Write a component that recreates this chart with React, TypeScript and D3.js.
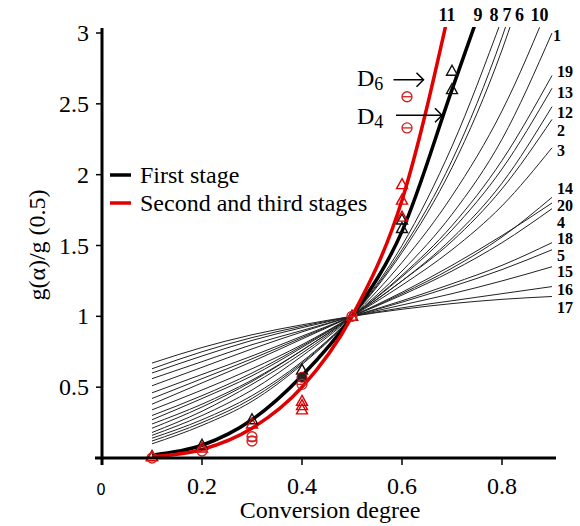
import React from "react";
import * as d3 from "d3";

// ---------- data ----------
const alphas = [0.1, 0.2, 0.3, 0.4, 0.5, 0.6, 0.7, 0.8, 0.9];

// model curves g(a)/g(0.5), values at alphas
const modelIds = ["17", "16", "15", "5", "18", "4", "14", "20", "3", "12", "2", "19", "13", "1", "10", "6", "7", "8"];
const modelValues: number[][] = [
  [0.67, 0.78, 0.87, 0.94, 1, 1.05, 1.09, 1.12, 1.14],
  [0.63, 0.75, 0.85, 0.93, 1, 1.06, 1.11, 1.16, 1.21],
  [0.6, 0.72, 0.83, 0.92, 1, 1.08, 1.16, 1.25, 1.35],
  [0.56, 0.68, 0.8, 0.9, 1, 1.1, 1.21, 1.33, 1.47],
  [0.51, 0.64, 0.77, 0.89, 1, 1.11, 1.23, 1.36, 1.52],
  [0.46, 0.59, 0.72, 0.86, 1, 1.15, 1.32, 1.52, 1.76],
  [0.42, 0.56, 0.7, 0.85, 1, 1.16, 1.34, 1.56, 1.84],
  [0.38, 0.53, 0.68, 0.84, 1, 1.17, 1.36, 1.57, 1.8],
  [0.34, 0.48, 0.63, 0.8, 1, 1.22, 1.47, 1.78, 2.19],
  [0.3, 0.44, 0.6, 0.79, 1, 1.25, 1.55, 1.94, 2.48],
  [0.27, 0.42, 0.58, 0.78, 1, 1.25, 1.53, 1.9, 2.39],
  [0.24, 0.38, 0.55, 0.76, 1, 1.29, 1.64, 2.1, 2.7],
  [0.21, 0.36, 0.54, 0.76, 1, 1.28, 1.61, 2.04, 2.61],
  [0.18, 0.33, 0.52, 0.74, 1, 1.32, 1.72, 2.25, 3.0],
  [0.16, 0.3, 0.48, 0.72, 1, 1.38, 1.85, 2.45, 3.25],
  [0.14, 0.27, 0.44, 0.68, 1, 1.45, 2.05, 2.88, 4.0],
  [0.12, 0.25, 0.42, 0.67, 1, 1.47, 2.1, 2.97, 4.1],
  [0.1, 0.23, 0.4, 0.66, 1, 1.5, 2.2, 3.1],
];

// experimental stage curves
const firstStage = [0.02, 0.09, 0.27, 0.58, 1, 1.6, 2.6, 3.6];
const secondThird = [0.01, 0.06, 0.21, 0.5, 1, 1.82, 3.25];

// markers
const blackTriA = [0.1, 0.2, 0.3, 0.4, 0.5, 0.6, 0.6, 0.7, 0.7];
const blackTriV = [0.01, 0.09, 0.27, 0.62, 1.0, 1.62, 1.68, 2.6, 2.73];
const blackDotA = [0.4];
const blackDotV = [0.57];
const redTriA = [0.1, 0.2, 0.3, 0.4, 0.4, 0.4, 0.5, 0.6, 0.6, 0.6];
const redTriV = [0.01, 0.07, 0.24, 0.4, 0.37, 0.34, 1.0, 1.93, 1.82, 1.7];
const redCircA = [0.1, 0.2, 0.3, 0.3, 0.4, 0.5, 0.61, 0.61];
const redCircV = [0.0, 0.05, 0.15, 0.12, 0.52, 1.0, 2.55, 2.33];

// labels
const topLabels = ["11", "9", "8", "7", "6", "10"];
const topLabelA = [0.69, 0.752, 0.784, 0.81, 0.835, 0.875];
const rightLabels = ["1", "19", "13", "12", "2", "3", "14", "20", "4", "18", "5", "15", "16", "17"];
const rightLabelV = [2.98, 2.73, 2.58, 2.44, 2.31, 2.17, 1.9, 1.78, 1.66, 1.55, 1.43, 1.32, 1.19, 1.06];

const yTicks = [0.5, 1, 1.5, 2, 2.5, 3];
const xTicks = [0.2, 0.4, 0.6, 0.8];

const SERIF = "Liberation Serif, Times New Roman, DejaVu Serif, serif";

export default function App() {
  const W = 580, H = 526;
  const x = d3.scaleLinear().domain([0, 0.9]).range([102, 552]);
  const y = d3.scaleLinear().domain([0, 3]).range([458, 33]);
  const line = d3
    .line<[number, number]>()
    .x((d) => x(d[0]))
    .y((d) => y(d[1]))
    .curve(d3.curveMonotoneX);
  const pts = (vals: number[]) => vals.map((v, i) => [alphas[i], v] as [number, number]);
  const serif = { fontFamily: SERIF };

  const tri = (cx: number, cy: number, color: string, key: string) => (
    <path
      key={key}
      d={`M${cx},${cy - 6} L${cx + 5.5},${cy + 4} L${cx - 5.5},${cy + 4} Z`}
      fill="none"
      stroke={color}
      strokeWidth={1.4}
    />
  );
  const circ = (cx: number, cy: number, color: string, key: string) => (
    <g key={key} stroke={color} strokeWidth={1.3} fill="none">
      <circle cx={cx} cy={cy} r={5} />
      <line x1={cx - 5} x2={cx + 5} y1={cy} y2={cy} />
    </g>
  );

  return (
    <svg width={W} height={H} style={{ display: "block", position: "absolute", left: 0, top: 0 }}>
      <rect width={W} height={H} fill="#fff" />
      <defs>
        <clipPath id="plot">
          <rect x={102} y={27} width={460} height={432} />
        </clipPath>
      </defs>

      <g clipPath="url(#plot)">
        {modelValues.map((vals, i) => (
          <path key={modelIds[i]} d={line(pts(vals)) || ""} fill="none" stroke="#222" strokeWidth={1} />
        ))}
        <path d={line(pts(firstStage)) || ""} fill="none" stroke="#000" strokeWidth={3.5} />
        <path d={line(pts(secondThird)) || ""} fill="none" stroke="#e00000" strokeWidth={3.5} />
      </g>

      {/* markers */}
      {blackTriA.map((a, i) => tri(x(a), y(blackTriV[i]), "#111", "bt" + i))}
      {blackDotA.map((a, i) => (
        <circle key={"bd" + i} cx={x(a)} cy={y(blackDotV[i])} r={5} fill="#222" stroke="#c00" strokeWidth={1} />
      ))}
      {redTriA.map((a, i) => tri(x(a), y(redTriV[i]), "#e00000", "rt" + i))}
      {redCircA.map((a, i) => circ(x(a), y(redCircV[i]), "#d02020", "rc" + i))}

      {/* axes */}
      <line x1={102} x2={102} y1={28} y2={465} stroke="#000" strokeWidth={3} />
      <line x1={95} x2={556} y1={458} y2={458} stroke="#000" strokeWidth={3} />
      {yTicks.map((t) => (
        <g key={"yt" + t}>
          <line x1={96} x2={102} y1={y(t)} y2={y(t)} stroke="#000" strokeWidth={1.5} />
          <text x={89} y={y(t)} textAnchor="end" dominantBaseline="central" style={serif} fontSize={24}>
            {String(t)}
          </text>
        </g>
      ))}
      {xTicks.map((t) => (
        <g key={"xt" + t}>
          <line x1={x(t)} x2={x(t)} y1={458} y2={465} stroke="#000" strokeWidth={1.5} />
          <text x={x(t)} y={486} textAnchor="middle" dominantBaseline="central" style={serif} fontSize={24}>
            {String(t)}
          </text>
        </g>
      ))}
      <text x={101} y={490} textAnchor="middle" dominantBaseline="central" style={{ fontFamily: "DejaVu Sans, sans-serif" }} fontSize={15}>
        0
      </text>

      {/* titles */}
      <text x={330} y={518} textAnchor="middle" style={serif} fontSize={24}>
        Conversion degree
      </text>
      <text
        transform="translate(37,245) rotate(-90)"
        textAnchor="middle"
        dominantBaseline="central"
        style={serif}
        fontSize={24}
      >
        g(α)/g (0.5)
      </text>

      {/* legend */}
      <line x1={110} x2={131} y1={175} y2={175} stroke="#000" strokeWidth={3.5} />
      <text x={140} y={183} style={serif} fontSize={24}>First stage</text>
      <line x1={110} x2={131} y1={203} y2={203} stroke="#e00000" strokeWidth={3.5} />
      <text x={140} y={211} style={serif} fontSize={24}>Second and third stages</text>

      {/* D annotations */}
      <text x={357} y={86} style={serif} fontSize={24}>
        D<tspan fontSize={18} dy={4}>6</tspan>
      </text>
      <line x1={x(0.583)} x2={x(0.643)} y1={y(2.67)} y2={y(2.67)} stroke="#000" strokeWidth={1.5} />
      <path d={`M${x(0.643) - 7},${y(2.67) - 7} L${x(0.643)},${y(2.67)} L${x(0.643) - 7},${y(2.67) + 7}`} fill="none" stroke="#000" strokeWidth={1.5} />
      <text x={357} y={124} style={serif} fontSize={24}>
        D<tspan fontSize={18} dy={4}>4</tspan>
      </text>
      <line x1={x(0.588)} x2={x(0.68)} y1={y(2.42)} y2={y(2.42)} stroke="#000" strokeWidth={1.5} />
      <path d={`M${x(0.68) - 7},${y(2.42) - 7} L${x(0.68)},${y(2.42)} L${x(0.68) - 7},${y(2.42) + 7}`} fill="none" stroke="#000" strokeWidth={1.5} />

      {/* curve labels */}
      {topLabels.map((l, i) => (
        <text key={"tl" + l} x={x(topLabelA[i])} y={21} textAnchor="middle" style={serif} fontSize={18} fontWeight="bold">
          {l}
        </text>
      ))}
      {rightLabels.map((l, i) => (
        <text
          key={"rl" + l}
          x={l === "1" ? 553 : 557}
          y={y(rightLabelV[i])}
          dominantBaseline="central"
          style={serif}
          fontSize={16}
          fontWeight="bold"
        >
          {l}
        </text>
      ))}
    </svg>
  );
}
